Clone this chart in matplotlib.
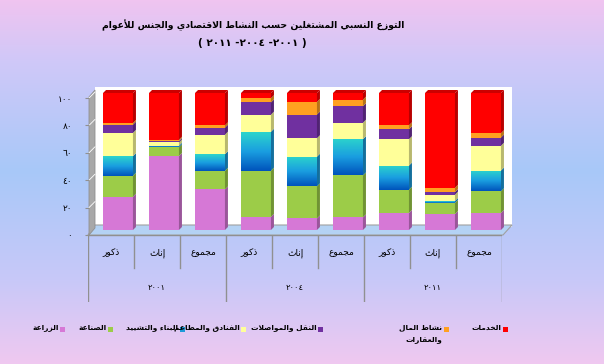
import numpy as np
import matplotlib
matplotlib.use("Agg")
import matplotlib.pyplot as plt
from matplotlib.patches import Polygon, Rectangle
from matplotlib.colors import LinearSegmentedColormap, to_rgb

# data (percent, bottom to top of each stacked bar)
years = ['٢٠٠١', '٢٠٠٤', '٢٠١١']
sexes = ['ذكور', 'إناث', 'مجموع']
agri = [24.3, 54.0, 29.6, 9.6, 8.4, 9.2, 12.5, 11.6, 12.5]
industry = [15.3, 6.3, 13.6, 33.7, 23.4, 30.6, 16.9, 8.2, 15.7]
construction = [14.3, 1.2, 12.1, 28.4, 21.7, 26.5, 17.6, 1.4, 15.2]
hotels = [17.0, 2.4, 14.3, 12.5, 13.5, 12.0, 19.3, 4.6, 18.1]
transport = [6.0, 1.0, 5.1, 8.9, 17.3, 12.0, 7.2, 1.9, 6.0]
finance = [1.2, 1.0, 1.7, 3.1, 9.2, 4.8, 2.9, 3.1, 3.1]
services = [21.9, 34.1, 23.6, 3.8, 6.5, 4.9, 23.6, 69.2, 29.4]
names = ['الزراعة', 'الصناعة', 'البناء والتشييد', 'الفنادق والمطاعم',
         'النقل والمواصلات', 'نشاط المال\nوالعقارات', 'الخدمات']
yticks = [0, 20, 40, 60, 80, 100]
yticklabels = ['٠', '٢٠', '٤٠', '٦٠', '٨٠', '١٠٠']
title1 = 'التوزع النسبي المشتغلين حسب النشاط الاقتصادي والجنس للأعوام'
title2 = '( ٢٠١١ -٢٠٠٤ -٢٠٠١ )'

colors = ['#d678d6', '#9ccc48', '#1c9ad8', '#ffff99', '#7030a0', '#ffa020', '#ff0000']

# matplotlib has no arabic shaping, so pick the presentation forms by hand
FOUR = {'ب': 0xFE8F, 'ت': 0xFE95, 'ث': 0xFE99, 'ج': 0xFE9D, 'ح': 0xFEA1, 'خ': 0xFEA5,
        'س': 0xFEB1, 'ش': 0xFEB5, 'ص': 0xFEB9, 'ض': 0xFEBD, 'ط': 0xFEC1, 'ظ': 0xFEC5,
        'ع': 0xFEC9, 'غ': 0xFECD, 'ف': 0xFED1, 'ق': 0xFED5, 'ك': 0xFED9, 'ل': 0xFEDD,
        'م': 0xFEE1, 'ن': 0xFEE5, 'ه': 0xFEE9, 'ي': 0xFEF1, 'ئ': 0xFE89}
TWO = {'آ': 0xFE81, 'أ': 0xFE83, 'ؤ': 0xFE85, 'إ': 0xFE87, 'ا': 0xFE8D, 'ة': 0xFE93,
       'د': 0xFEA9, 'ذ': 0xFEAB, 'ر': 0xFEAD, 'ز': 0xFEAF, 'و': 0xFEED, 'ى': 0xFEEF,
       '\ufef5': 0xFEF5, '\ufef7': 0xFEF7, '\ufef9': 0xFEF9, '\ufefb': 0xFEFB}


def shape_line(s):
    for a, lig in (('لآ', '\ufef5'), ('لأ', '\ufef7'), ('لإ', '\ufef9'), ('لا', '\ufefb')):
        s = s.replace(a, lig)
    out = []
    for i, ch in enumerate(s):
        prev = s[i - 1] if i > 0 else ''
        nxt = s[i + 1] if i + 1 < len(s) else ''
        if ch in FOUR:
            b = FOUR[ch]
            jp = prev in FOUR
            jn = nxt in FOUR or nxt in TWO
            c = b + 3 if (jp and jn) else b + 1 if jp else b + 2 if jn else b
            out.append(chr(c))
        elif ch in TWO:
            b = TWO[ch]
            out.append(chr(b + 1 if prev in FOUR else b))
        else:
            out.append(ch)
    return ''.join(out)[::-1]


def ar(s):
    return '\n'.join(shape_line(l) for l in s.split('\n'))


W, H = 604, 364
fig = plt.figure(figsize=(W / 100, H / 100), dpi=100)

# background, wall, floor (pixel coordinates)
bg = fig.add_axes([0, 0, 1, 1], zorder=-10)
bg.set_xlim(0, W)
bg.set_ylim(H, 0)
bg.axis('off')
stops_y = [0, 60, 170, 280, 364]
stops_c = np.array([to_rgb(c) for c in ['#f0c4f0', '#d0c8f8', '#a8c8f8', '#c8c8f8', '#f0c8f0']])
yy = np.arange(H)
grad = np.stack([np.interp(yy, stops_y, stops_c[:, k]) for k in range(3)], axis=-1)[:, None, :]
bg.imshow(grad, extent=[0, W, H, 0], aspect='auto', zorder=0)
bg.add_patch(Rectangle((95, 87), 417, 140, facecolor='white', edgecolor='none', zorder=1))
bg.add_patch(Polygon([(88, 235), (95, 225), (512, 225), (503, 235)], closed=True,
                     facecolor='#b4d2f4', edgecolor='#a0a0a0', lw=0.8, zorder=2))
bg.add_patch(Polygon([(89, 235), (89, 97), (95, 90), (95, 228)], closed=True,
                     facecolor='#a8a8a8', edgecolor='#909090', lw=0.6, zorder=2))

# title
bg.text(253, 25, ar(title1), ha='center', va='center', fontsize=6.7, fontweight='bold')
bg.text(252, 43, title2, ha='center', va='center', fontsize=7.5, fontweight='bold')

# bars
ax = fig.add_axes([95 / W, 1 - 230 / H, 414 / W, 142 / H])
ax.set_xlim(-0.5, 8.5)
ax.set_ylim(0, 142 / 1.37)
ax.axis('off')
x = np.arange(len(agri))
bw = 0.65
dx, dy = 3 / 46, 3 / 1.37
series = [agri, industry, construction, hotels, transport, finance, services]
bottom = np.zeros(len(x))
blue_cmap = LinearSegmentedColormap.from_list('bl', ['#0054bc', '#1a9ee0', '#2cd4cc'])
for vals, c in zip(series, colors):
    vals = np.array(vals)
    rects = ax.bar(x, vals, bw, bottom=bottom, color=c, linewidth=0, clip_on=False, zorder=2)
    dark = np.array(to_rgb(c)) * 0.72
    for xi, b, v in zip(x, bottom, vals):
        xr = xi + bw / 2
        ax.add_patch(Polygon([(xr, b), (xr + dx, b + dy), (xr + dx, b + v + dy), (xr, b + v)],
                             closed=True, facecolor=dark, edgecolor='none', clip_on=False, zorder=2))
    if c == colors[2]:
        g = np.linspace(0, 1, 50)[:, None]
        for r in rects:
            x0, y0 = r.get_x(), r.get_y()
            im = ax.imshow(g, cmap=blue_cmap, origin='lower', aspect='auto',
                           extent=[x0, x0 + r.get_width(), y0, y0 + r.get_height()], zorder=2.5)
            im.set_clip_path(r)
    bottom = bottom + vals
top_dark = np.array(to_rgb(colors[-1])) * 0.8
for xi, t in zip(x, bottom):
    xl, xr = xi - bw / 2, xi + bw / 2
    ax.add_patch(Polygon([(xl, t), (xl + dx, t + dy), (xr + dx, t + dy), (xr, t)],
                         closed=True, facecolor=top_dark, edgecolor='none', clip_on=False, zorder=2))
ax.set_xlim(-0.5, 8.5)
ax.set_ylim(0, 142 / 1.37)

# value axis on the front plane
axy = fig.add_axes([89 / W, 1 - 235 / H, 0.0001, 137 / H])
axy.set_ylim(0, 100)
axy.set_yticks(yticks)
axy.set_yticklabels(yticklabels, fontsize=6.5)
axy.set_xticks([])
for s in axy.spines.values():
    s.set_visible(False)
axy.tick_params(axis='y', length=3, color='#909090', pad=9)
for yt in yticks[1:]:
    yp = 235 - yt * 1.37
    bg.plot([89, 95], [yp, yp - 6], color='white', lw=0.6, zorder=3)

# category table
axf = fig.add_axes([88 / W, 1 - 302 / H, 414 / W, 67 / H])
axf.set_xlim(-0.5, 8.5)
axf.set_ylim(67, 0)
axf.axis('off')
axf.plot([-0.6, 8.5], [0, 0], color='#909090', lw=1)
for k in range(10):
    yb = 67 if k % 3 == 0 else 33
    axf.plot([k - 0.5, k - 0.5], [0, yb], color='#909090', lw=1)
for i in x:
    axf.text(i, 18, ar(sexes[i % 3]), ha='center', va='center', fontsize=6.5)
for g_, yr in enumerate(years):
    axf.text(3 * g_ + 1, 52, yr, ha='center', va='center', fontsize=6)

# legend, right-to-left: swatch on the right of each label
leg_x = [60, 108, 180, 241, 318, 444, 503]
for mx, name, c in zip(leg_x, names, colors):
    bg.add_patch(Rectangle((mx, 327), 5, 5, facecolor=c, edgecolor='none', zorder=3))
    bg.text(mx - 1.5, 324.5, ar(name), ha='right', va='top', fontsize=5.4,
            fontweight='bold', multialignment='right', linespacing=2.0, zorder=3)

fig.savefig('out.png', dpi=100)
